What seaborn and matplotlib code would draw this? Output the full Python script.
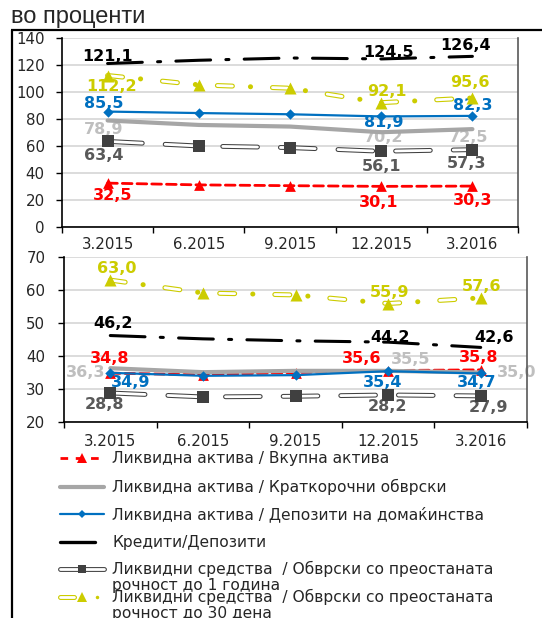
import numpy as np
import matplotlib
matplotlib.use('Agg')
import matplotlib.pyplot as plt
import seaborn as sns

sns.set_style("white")
plt.rcParams['font.family'] = ['DejaVu Sans']
plt.rcParams['lines.scale_dashes'] = False

# податоци (во проценти)
periods = ['3.2015', '6.2015', '9.2015', '12.2015', '3.2016']

top_red = [32.5, 31.2, 30.6, 30.1, 30.3]
top_gray = [78.9, 75.6, 74.4, 70.2, 72.5]
top_blue = [85.5, 84.4, 83.5, 81.9, 82.3]
top_black = [121.1, 123.5, 125.2, 124.5, 126.4]
top_dgray = [63.4, 60.0, 58.8, 56.1, 57.3]
top_yellow = [112.2, 105.3, 102.8, 92.1, 95.6]

bot_red = [34.8, 34.3, 35.0, 35.6, 35.8]
bot_gray = [36.3, 35.1, 35.5, 35.5, 35.0]
bot_blue = [34.9, 34.0, 34.2, 35.4, 34.7]
bot_black = [46.2, 45.2, 44.6, 44.2, 42.6]
bot_dgray = [28.8, 27.6, 27.8, 28.2, 27.9]
bot_yellow = [63.0, 59.1, 58.5, 55.9, 57.6]

labelled = [0, 3, 4]  # точки со ознака на вредноста

legend_labels = [
    'Ликвидна актива / Вкупна актива',
    'Ликвидна актива / Краткорочни обврски',
    'Ликвидна актива / Депозити на домаќинства',
    'Кредити/Депозити',
    'Ликвидни средства  / Обврски со преостаната\nрочност до 1 година',
    'Ликвидни средства  / Обврски со преостаната\nрочност до 30 дена',
]

# стилови на сериите
styles = [
    dict(color='#ff0000', text='#ff0000', lw=2.0, ls=(0, (7, 3.6)), marker='^', s=60),
    dict(color='#a6a6a6', text='#bfbfbf', lw=3.0, ls='-', marker=None),
    dict(color='#0070c0', text='#0070c0', lw=1.6, ls='-', marker='D', s=28),
    dict(color='#000000', text='#000000', lw=2.2, ls=(0, (25, 11, 2.2, 11)), marker=None),
    dict(color='#404040', text='#595959', lw=3.5, ls=(0, (25, 16.5)),
         inner=(2.0, (0, (25, 16.5))), marker='s', s=75),
    dict(color='#cccc00', text='#cccc00', lw=3.6, ls=(0, (10.8, 13, 0.1, 15.8)),
         inner=(2.0, (0, (10.8, 28.9))), marker='^', s=75),
]

# поместувања на ознаките (пиксели)
top_offsets = [
    [(5, -12), (-3, -16), (0, -14)],
    [(-4, -9), (2, -5), (-4, -8)],
    [(-4, 8), (3, -6), (0, 10)],
    [(0, 7), (7, 6), (-7, 11)],
    [(-4, -14), (0, -15), (-6, -14)],
    [(4, -11), (6, 11), (-3, 15)],
]
bot_offsets = [
    [(-1, 15), (-26, 12), (-2, 12)],
    [(-25, -4), (23, 11), (36, 0)],
    [(20, -10), (-5, -11), (-4, -9)],
    [(3, 12), (2, 5), (13, 10)],
    [(-6, -12), (-1, -12), (8, -12)],
    [(6, 12), (1, 11), (1, 11)],
]

x = np.arange(len(periods))

fig = plt.figure(figsize=(5.42, 6.18), dpi=100)
W, H = 542, 618


def px_axes(l, t, r, b):
    return fig.add_axes([l / W, 1 - b / H, (r - l) / W, (b - t) / H])


ax_top = px_axes(62, 38, 518, 227)
ax_bot = px_axes(64, 257, 527, 422)


def draw(ax, series, offsets):
    for k, (vals, st) in enumerate(zip(series, styles)):
        z = 3 + k
        sns.lineplot(x=x, y=vals, ax=ax, color=st['color'], lw=st['lw'],
                     linestyle=st['ls'], dash_capstyle='round',
                     solid_capstyle='round', zorder=z)
        if 'inner' in st:
            ilw, ils = st['inner']
            sns.lineplot(x=x, y=vals, ax=ax, color='white', lw=ilw,
                         linestyle=ils, dash_capstyle='round',
                         solid_capstyle='round', zorder=z)
        if st['marker']:
            sns.scatterplot(x=x, y=vals, ax=ax, marker=st['marker'], s=st['s'],
                            color=st['color'], linewidth=0, zorder=z + 0.5)
        for i, (dx, dy) in zip(labelled, offsets[k]):
            ax.annotate(f'{vals[i]:.1f}'.replace('.', ','), (x[i], vals[i]),
                        xytext=(dx, dy), textcoords='offset pixels',
                        ha='center', va='center', fontsize=11.5,
                        fontweight='bold', color=st['text'], zorder=2)


def setup(ax, lo, hi, step, xpad, ypad):
    ax.set_xlim(-0.5, 4.5)
    ax.set_ylim(lo, hi)
    ax.set_yticks(np.arange(lo, hi + 1, step))
    ax.set_xticks(x, periods)
    ax.set_xticks(np.arange(-0.5, 5, 1), minor=True)
    ax.tick_params(axis='x', which='major', length=0, pad=xpad, labelsize=10.8)
    ax.tick_params(axis='x', which='minor', bottom=True, length=4, width=1,
                   color='black')
    ax.tick_params(axis='y', left=True, length=4, width=1, color='black',
                   pad=ypad, labelsize=10.8)
    ax.grid(axis='y', color='#d9d9d9', lw=1.3)
    ax.set_axisbelow(True)
    ax.set_xlabel('')
    ax.set_ylabel('')
    ax.spines['top'].set_visible(False)
    for s in ['left', 'bottom']:
        ax.spines[s].set_color('black')
        ax.spines[s].set_linewidth(1.2)
    ax.spines['right'].set_color('#595959')
    ax.spines['right'].set_linewidth(1.2)


draw(ax_top, [top_red, top_gray, top_blue, top_black, top_dgray, top_yellow],
     top_offsets)
draw(ax_bot, [bot_red, bot_gray, bot_blue, bot_black, bot_dgray, bot_yellow],
     bot_offsets)
setup(ax_top, 0, 140, 20, 7, 8.5)
setup(ax_bot, 20, 70, 10, 9, 9.5)

# наслов, рамка и легенда во пиксел координати
ov = fig.add_axes([0, 0, 1, 1], zorder=-1)
ov.set_xlim(0, W)
ov.set_ylim(H, 0)
ov.axis('off')

ov.text(11, 17, 'во проценти', fontsize=17, family='Liberation Sans',
        va='center', ha='left')
ov.plot([11, W], [30, 30], color='black', lw=1.6, solid_capstyle='butt')
ov.plot([12, 12], [30, H], color='black', lw=1.6, solid_capstyle='butt')

ly = [458, 487, 514, 542, 569, 597]
hx0, hx1, hm = 60, 104, 82
# 1 црвена
ov.plot([hx0, hx1], [ly[0]] * 2, color='#ff0000', lw=2, linestyle=(0, (5.5, 5.5)))
ov.plot([hm], [ly[0]], marker='^', ms=7, color='#ff0000', mew=0)
# 2 сива
ov.plot([hx0, hx1], [ly[1]] * 2, color='#a6a6a6', lw=3)
# 3 сина
ov.plot([hx0, hx1], [ly[2]] * 2, color='#0070c0', lw=1.6)
ov.plot([hm], [ly[2]], marker='D', ms=4.5, color='#0070c0', mew=0)
# 4 црна
ov.plot([hx0, 95], [ly[3]] * 2, color='black', lw=2.4)
# 5 темно сива (шуплива)
ov.plot([hx0, hx1], [ly[4]] * 2, color='#404040', lw=3.5, solid_capstyle='round')
ov.plot([hx0, hx1], [ly[4]] * 2, color='white', lw=2, solid_capstyle='round')
ov.plot([hm], [ly[4]], marker='s', ms=6, color='#404040', mew=0)
# 6 жолта
ov.plot([hx0, 74], [ly[5]] * 2, color='#cccc00', lw=3.6, solid_capstyle='round')
ov.plot([hx0, 74], [ly[5]] * 2, color='white', lw=2, solid_capstyle='round')
ov.plot([hm], [ly[5]], marker='^', ms=7, color='#cccc00', mew=0)
ov.plot([97], [ly[5]], marker='o', ms=2.5, color='#cccc00', mew=0)

for yy, lab in zip(ly, legend_labels):
    if '\n' in lab:
        ov.text(112, yy - 8, lab, fontsize=11.2, va='top', ha='left',
                linespacing=1.05)
    else:
        ov.text(112, yy, lab, fontsize=11.2, va='center', ha='left')

fig.savefig('out.png', dpi=100)
